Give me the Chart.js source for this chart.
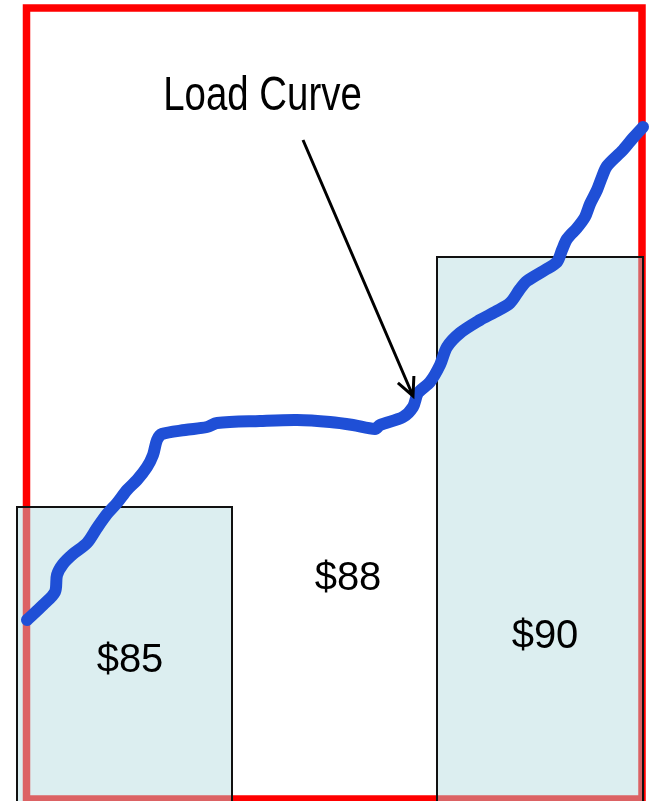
<!DOCTYPE html>
<html>
<head>
<meta charset="utf-8">
<script src="https://cdn.jsdelivr.net/npm/chart.js@4.4.1/dist/chart.umd.min.js"></script>
<style>
  html, body { margin: 0; padding: 0; background: #fff; }
  #wrap { width: 654px; height: 801px; }
</style>
</head>
<body>
<div id="wrap"><canvas id="load_chart"></canvas></div>
<script>
// load curve (x = time position, y = load level)
const curveTime = [27, 43, 55, 57, 63, 73, 87, 97, 107, 117, 127, 137, 147, 153, 157, 162, 185, 207, 217, 260,
  297, 330, 353, 375, 380, 403, 413, 418, 430, 440, 447, 460, 480, 495, 510, 520, 527, 545, 557, 562,
  567, 577, 585, 590, 597, 602, 607, 623, 633, 643];
const curveLoad = [181, 196, 209, 226, 237, 247, 258, 273, 287, 298, 311, 321, 334, 346, 361, 367, 371, 374, 378, 380,
  381, 379, 376, 372, 376, 384, 394, 408, 419, 436, 454, 468, 481, 489, 498, 512, 520, 531, 539, 551,
  562, 573, 584, 597, 611, 624, 635, 651, 663, 674];

// price blocks: [start, end] in time, height in load
const blockPrices = ["$85", "$88", "$90"];
const blockStart = [17, 437];
const blockEnd = [232, 643];
const blockTop = [294, 544];

const priceLabels = {
  id: "priceLabels",
  beforeDatasetsDraw(chart) {
    const { ctx, scales: { x, y } } = chart;
    ctx.save();
    // red frame
    ctx.strokeStyle = "#ff0000";
    ctx.lineWidth = 7.5;
    ctx.strokeRect(x.getPixelForValue(26.5), y.getPixelForValue(793),
      x.getPixelForValue(642) - x.getPixelForValue(26.5), y.getPixelForValue(2) - y.getPixelForValue(793));
    // blocks
    for (let i = 0; i < blockStart.length; i++) {
      const x0 = x.getPixelForValue(blockStart[i]);
      const x1 = x.getPixelForValue(blockEnd[i]);
      const y0 = y.getPixelForValue(blockTop[i]);
      const y1 = y.getPixelForValue(-2);
      ctx.fillStyle = "rgba(177, 217, 222, 0.45)";
      ctx.fillRect(x0, y0, x1 - x0, y1 - y0);
      ctx.strokeStyle = "#111";
      ctx.lineWidth = 2;
      ctx.strokeRect(x0, y0, x1 - x0, y1 - y0);
    }
    ctx.restore();
  },
  afterDatasetsDraw(chart) {
    const { ctx, scales: { x, y } } = chart;
    ctx.save();
    ctx.fillStyle = "#000";
    ctx.textAlign = "center";
    ctx.textBaseline = "alphabetic";
    ctx.font = "40px 'Liberation Sans', Arial, sans-serif";
    ctx.fillText(blockPrices[0], x.getPixelForValue(130), y.getPixelForValue(129));
    ctx.fillText(blockPrices[1], x.getPixelForValue(348), y.getPixelForValue(211));
    ctx.fillText(blockPrices[2], x.getPixelForValue(545), y.getPixelForValue(153));

    // "Load Curve" in a narrow face
    ctx.save();
    ctx.translate(x.getPixelForValue(262.5), y.getPixelForValue(691));
    ctx.scale(0.8, 1);
    ctx.font = "48px 'Liberation Sans', Arial, sans-serif";
    ctx.fillText("Load Curve", 0, 0);
    ctx.restore();

    // arrow to the curve
    const ax0 = x.getPixelForValue(303), ay0 = y.getPixelForValue(661);
    const ax1 = x.getPixelForValue(413), ay1 = y.getPixelForValue(405);
    ctx.strokeStyle = "#000";
    ctx.lineWidth = 3;
    ctx.beginPath();
    ctx.moveTo(ax0, ay0);
    ctx.lineTo(ax1, ay1);
    const ang = Math.atan2(ay1 - ay0, ax1 - ax0);
    const len = 20;
    ctx.moveTo(ax1 - len * Math.cos(ang - 0.45), ay1 - len * Math.sin(ang - 0.45));
    ctx.lineTo(ax1, ay1);
    ctx.lineTo(ax1 - len * Math.cos(ang + 0.45), ay1 - len * Math.sin(ang + 0.45));
    ctx.stroke();
    ctx.restore();
  }
};

new Chart(document.getElementById("load_chart"), {
  type: "line",
  data: {
    labels: curveTime,
    datasets: [{
      label: "Load Curve",
      data: curveTime.map((t, i) => ({ x: t, y: curveLoad[i] })),
      borderColor: "#1f4fd6",
      borderWidth: 12,
      borderCapStyle: "round",
      borderJoinStyle: "round",
      tension: 0.3,
      pointRadius: 0,
      fill: false,
      clip: false,
    }]
  },
  options: {
    responsive: true,
    maintainAspectRatio: false,
    animation: false,
    layout: { padding: 0 },
    scales: {
      x: { type: "linear", min: 0, max: 654, display: false },
      y: { type: "linear", min: 0, max: 801, display: false },
    },
    plugins: {
      legend: { display: false },
      tooltip: { enabled: false },
    },
  },
  plugins: [priceLabels],
});
</script>
</body>
</html>
